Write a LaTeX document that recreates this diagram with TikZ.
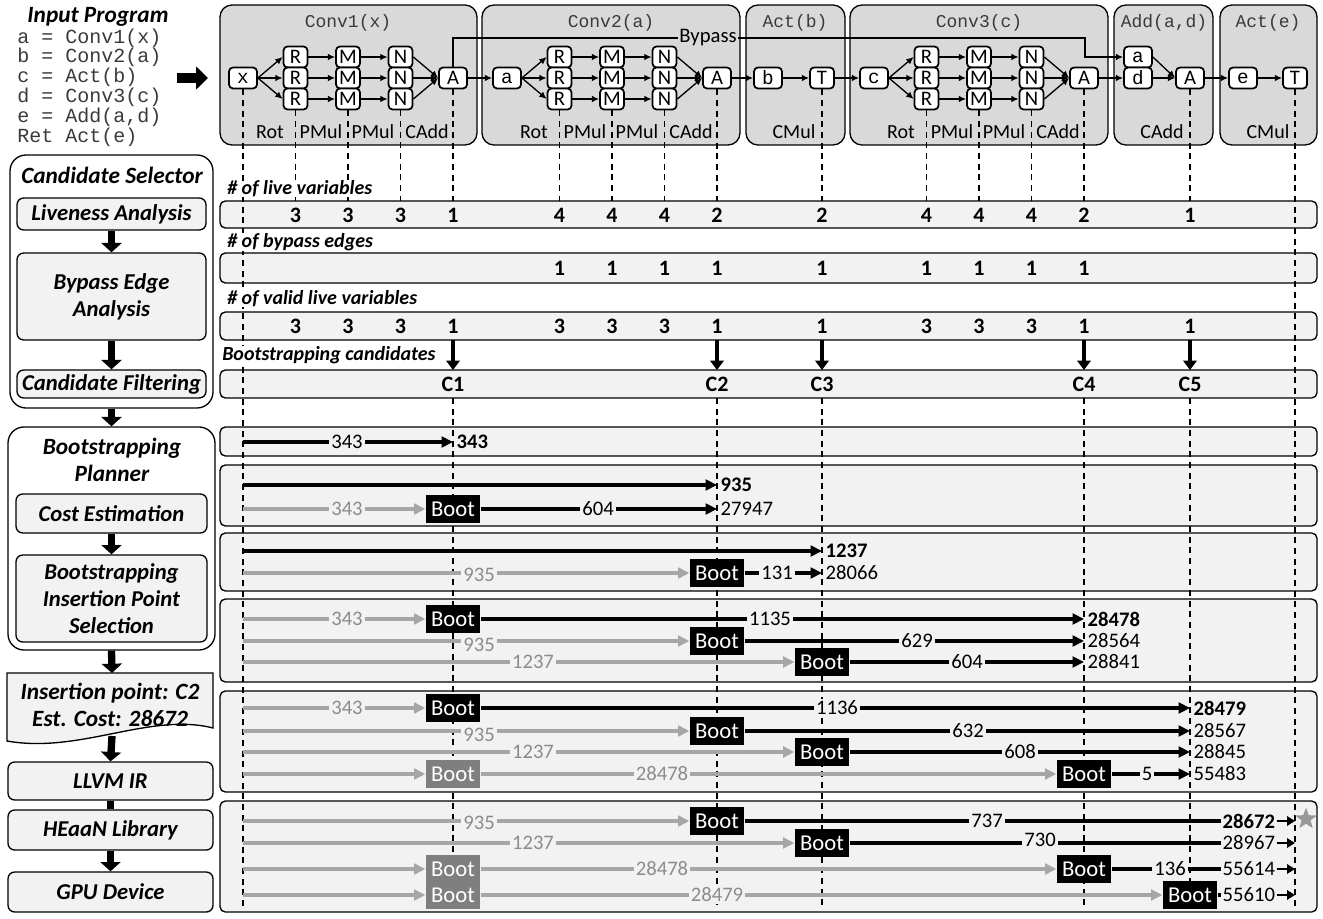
\documentclass[tikz,border=0pt]{standalone}
\usepackage{fontspec}
\setmainfont{Carlito}
\newfontfamily\codefont{Liberation Mono}
\usetikzlibrary{arrows.meta,shapes.geometric}
\definecolor{blockgray}{HTML}{D9D9D9}
\definecolor{rowgray}{HTML}{F2F2F2}
\definecolor{linegray}{HTML}{A6A6A6}
\definecolor{textgray}{HTML}{8C8C8C}
\definecolor{bootgray}{HTML}{7F7F7F}
\definecolor{codegray}{HTML}{3A3A3A}
\definecolor{stargray}{HTML}{999999}
\tikzset{
  block/.style={draw, line width=1pt, fill=blockgray, rounded corners=9pt},
  opn/.style={draw, line width=1.3pt, fill=white, rounded corners=3pt, minimum width=18pt, minimum height=15.75pt, inner sep=0pt, font=\fontsize{15.5}{15.5}\selectfont},
  varn/.style={opn, minimum width=21pt, font=\codefont\fontsize{14.5}{14.5}\selectfont},
  flow/.style={-{Latex[length=5.5pt,width=5pt]}, line width=1pt},
  oplbl/.style={font=\fontsize{15}{15}\selectfont, inner sep=0pt},
  ttl/.style={font=\codefont\fontsize{13.5}{13.5}\selectfont, text=codegray},
  codeln/.style={anchor=west, inner sep=0pt, font=\codefont\fontsize{15}{15}\selectfont, text=codegray},
  vdash/.style={line width=1pt, dash pattern=on 4.5pt off 3.5pt},
  rowbox/.style={draw, line width=1pt, fill=rowgray, rounded corners=4pt},
  hdr/.style={anchor=west, fill=white, font=\bfseries\itshape\fontsize{15}{15}\selectfont, inner sep=0pt},
  num/.style={font=\bfseries\fontsize{16.5}{16.5}\selectfont, inner sep=0pt},
  lbox/.style={draw, line width=1pt, fill=rowgray, rounded corners=5pt, align=center, font=\bfseries\itshape\fontsize{17}{20.5}\selectfont, inner sep=0pt},
  obox/.style={draw, line width=1pt, fill=white, rounded corners=12pt, inner sep=0pt},
  ltext/.style={align=center, font=\bfseries\itshape\fontsize{17.5}{20}\selectfont, inner sep=0pt},
  downarr/.style={line width=5.5pt, -{Triangle[length=7pt,width=15pt]}},
  barcon/.style={line width=5.5pt},
  cand/.style={line width=3.5pt, -{Triangle[length=7pt,width=10pt]}},
  blk/.style={line width=2.4pt, -{Triangle[length=8.5pt,width=8pt]}},
  blkn/.style={line width=2.4pt},
  gry/.style={line width=2.4pt, draw=linegray, -{Triangle[length=8.5pt,width=8pt]}},
  smallarr/.style={line width=2.2pt, -{Triangle[length=6pt,width=7pt]}},
  boot/.style={fill=black, text=white, minimum width=41pt, minimum height=21pt, inner sep=0pt, font=\fontsize{17}{17}\selectfont},
  gboot/.style={boot, fill=bootgray},
  vl/.style={fill=rowgray, inner sep=1.5pt, font=\fontsize{15.5}{15.5}\selectfont},
  gvl/.style={vl, text=textgray},
  el/.style={anchor=west, inner sep=1pt, font=\fontsize{15.5}{15.5}\selectfont},
  bel/.style={el, font=\bfseries\fontsize{15.5}{15.5}\selectfont},
}
\begin{document}
\begin{tikzpicture}[x=0.75pt,y=-0.75pt]
\useasboundingbox (0,0) rectangle (1323,919);

% ---------- top blocks ----------
\draw[block] (220,5) rectangle (477,145);
\draw[block] (482,5) rectangle (740,145);
\draw[block] (746,5) rectangle (845,145);
\draw[block] (850,5) rectangle (1108,145);
\draw[block] (1114,5) rectangle (1213,145);
\draw[block] (1220,5) rectangle (1317,145);
\node[ttl] (t1) at (348,23) {Conv1(x)};
\node[ttl] (t2) at (611,23) {Conv2(a)};
\node[ttl] (t3) at (795,23) {Act(b)};
\node[ttl] (t4) at (979,23) {Conv3(c)};
\node[ttl] (t5) at (1164,23) {Add(a,d)};
\node[ttl] (t6) at (1268,23) {Act(e)};

% ---------- input program ----------
\node[ltext] (iptitle) at (98,17) {Input Program};
\foreach \i/\t in {0/{a = Conv1(x)},1/{b = Conv2(a)},2/{c = Act(b)},3/{d = Conv3(c)},4/{e = Add(a,d)},5/{Ret Act(e)}}{
  \node[codeln] (code\i) at (17,38+19.8*\i) {\t};
}
\coordinate (bigs) at (177,78);
\coordinate (bige) at (208,78);
\draw[line width=7.5pt, -{Triangle[length=9pt,width=17pt]}] (bigs) -- (bige);

% ---------- left column ----------
\node[obox, minimum width=152.25pt, minimum height=189.75pt] (candsel) at (111.5,281.5) {};
\node[ltext] (cstitle) at (112,175) {Candidate Selector};
\node[lbox, minimum width=141.75pt, minimum height=24pt] (live) at (111.5,214) {Liveness Analysis};
\node[lbox, minimum width=141.75pt, minimum height=65.25pt] (bea) at (111.5,296.5) {Bypass Edge\\Analysis};
\node[lbox, minimum width=141.75pt, minimum height=21pt] (filt) at (111.5,384) {Candidate Filtering};
\draw[downarr] (live.south) -- (bea.north);
\draw[downarr] (bea.south) -- (filt.north);

\node[obox, minimum width=155.25pt, minimum height=167.25pt] (planner) at (111.5,538.5) {};
\node[ltext] (pltitle) at (112,460) {Bootstrapping\\Planner};
\node[lbox, minimum width=143.25pt, minimum height=29.25pt] (cost) at (111.5,513.5) {Cost Estimation};
\node[lbox, minimum width=143.25pt, minimum height=65.25pt] (insp) at (111.5,598.5) {Bootstrapping\\Insertion Point\\Selection};
\draw[downarr] (candsel.south) -- (planner.north);
\draw[downarr] (cost.south) -- (insp.north);

\coordinate (doctop) at (112,673);
\draw[line width=1pt, fill=rowgray] (7,673) -- (213,673) -- (213,728) .. controls (150,712) and (80,754) .. (7,741) -- cycle;
\node[ltext] (doct) at (110,705) {Insertion point: C2\\Est. Cost: 28672};
\coordinate (docbot) at (112,736);
\draw[downarr] (planner.south) -- (doctop);
\node[lbox, minimum width=153.75pt, minimum height=28.5pt] (llvm) at (110.5,781) {LLVM IR};
\node[lbox, minimum width=153.75pt, minimum height=30pt] (heaan) at (110.5,830) {HEaaN Library};
\node[lbox, minimum width=153.75pt, minimum height=30pt] (gpu) at (110.5,892) {GPU Device};
\draw[downarr] (docbot) -- (llvm.north);
\draw[barcon] (llvm.south) -- (heaan.north);
\draw[downarr] (heaan.south) -- (gpu.north);

% ---------- right rows backgrounds ----------
\draw[rowbox] (220,201) rectangle (1317,228);
\draw[rowbox] (220,253) rectangle (1317,283);
\draw[rowbox] (220,312) rectangle (1317,340);
\draw[rowbox] (220,370) rectangle (1317,398);

\draw[rowbox] (220,427) rectangle (1317,456);
\draw[rowbox] (220,465) rectangle (1317,526);
\draw[rowbox] (220,533) rectangle (1317,591);
\draw[rowbox] (220,599) rectangle (1317,682);
\draw[rowbox] (220,691) rectangle (1317,792);
\draw[rowbox] (220,801) rectangle (1317,912);

% ---------- operation graph ----------
\foreach \k/\xi/\v in {1/243/x,2/507/a,3/874/c}{
  \begin{scope}[shift={(\xi,0)}]
    \node[varn] (in\k) at (0,78) {\v};
    \node[opn, minimum width=21pt] (A\k) at (210,78) {A};
    \foreach \j/\yy in {1/57,2/78,3/99}{
      \node[opn] (R\k\j) at (52.5,\yy) {R};
      \node[opn] (M\k\j) at (105,\yy) {M};
      \node[opn] (N\k\j) at (157.5,\yy) {N};
      \draw[flow] (in\k.east) -- (R\k\j.west);
      \draw[flow] (R\k\j) -- (M\k\j);
      \draw[flow] (M\k\j) -- (N\k\j);
      \draw[flow] (N\k\j.east) -- (A\k.west);
    }
    \node[oplbl] (rot\k) at (27,132) {Rot};
    \node[oplbl] (pma\k) at (78,132) {PMul};
    \node[oplbl] (pmb\k) at (130,132) {PMul};
    \node[oplbl] (cad\k) at (184,132) {CAdd};
    \draw[vdash] (R\k3.south) -- (52.5,201);
    \draw[vdash] (M\k3.south) -- (105,201);
    \draw[vdash] (N\k3.south) -- (157.5,201);
    \draw[vdash] (A\k.south) -- (210,201);
  \end{scope}
}
\node[varn] (bb) at (768,78) {b};
\node[opn] (T1) at (822,78) {T};
\node[varn] (aa) at (1138,57) {a};
\node[varn] (dd) at (1138,78) {d};
\node[opn, minimum width=21pt] (A4) at (1190,78) {A};
\node[varn] (ee) at (1243,78) {e};
\node[opn] (T2) at (1295,78) {T};
\node[oplbl] (cm1) at (794,132) {CMul};
\node[oplbl] (ca4) at (1162,132) {CAdd};
\node[oplbl] (cm2) at (1268,132) {CMul};
\draw[flow] (A1.east) -- (in2.west);
\draw[flow] (A2.east) -- (bb.west);
\draw[flow] (bb) -- (T1);
\draw[flow] (T1.east) -- (in3.west);
\draw[flow] (A3.east) -- (dd.west);
\draw[flow] (aa.east) -- (A4.west);
\draw[flow] (dd.east) -- (A4.west);
\draw[flow] (A4.east) -- (ee.west);
\draw[flow] (ee) -- (T2);
\draw[flow] (A1.north) |- (1085,38) |- (aa.west);
\node[fill=blockgray, inner sep=1pt, font=\fontsize{15.5}{15.5}\selectfont] (bypl) at (708,38) {Bypass};

% ---------- dashed lines ----------
\draw[vdash] (in1.south) -- (243,910);
\draw[vdash] (T2.south) -- (1295,910);
\draw[vdash] (T1.south) -- (822,201);
\draw[vdash] (A4.south) -- (1190,201);
\foreach \xx in {453,717,822,1084,1190}{
  \draw[vdash] (\xx,398) -- (\xx,910);
}

% ---------- candidate selector rows ----------
\node[hdr] (h1) at (227,189) {\# of live variables};
\node[hdr] (h2) at (227,242) {\# of bypass edges};
\node[hdr] (h3) at (227,299) {\# of valid live variables};
\node[hdr] (h4) at (222,355) {Bootstrapping candidates};
\foreach \xx/\n in {295.5/3,348/3,400.5/3,453/1,559.5/4,612/4,664.5/4,717/2,822/2,926.5/4,979/4,1031.5/4,1084/2,1190/1}{
  \node[num] (lv\xx) at (\xx,215) {\n};
}
\foreach \xx/\n in {559.5/1,612/1,664.5/1,717/1,822/1,926.5/1,979/1,1031.5/1,1084/1}{
  \node[num] (be\xx) at (\xx,268) {\n};
}
\foreach \xx/\n in {295.5/3,348/3,400.5/3,453/1,559.5/3,612/3,664.5/3,717/1,822/1,926.5/3,979/3,1031.5/3,1084/1,1190/1}{
  \node[num] (vv\xx) at (\xx,326) {\n};
}
\foreach \xx/\c in {453/C1,717/C2,822/C3,1084/C4,1190/C5}{
  \coordinate (ct\c) at (\xx,340);
  \coordinate (cb\c) at (\xx,370);
  \draw[cand] (ct\c) -- (cb\c);
  \node[num] (cl\c) at (\xx,384) {\c};
}

% ---------- planner row 1 ----------
\coordinate (p1s) at (243,442); \coordinate (p1e) at (453,442);
\draw[blk] (p1s) -- (p1e);
\node[vl] (p1l) at (347,442) {343};
\node[bel] (p1r) at (455,442) {343};

% ---------- planner row 2 ----------
\coordinate (p2as) at (243,485); \coordinate (p2ae) at (717,485);
\draw[blk] (p2as) -- (p2ae);
\node[bel] (p2ar) at (719,485) {935};
\coordinate (p2bs) at (243,509); \coordinate (p2be) at (717,509);
\node[boot] (b21) at (453,509) {Boot};
\draw[gry] (p2bs) -- (b21.west);
\draw[blk] (b21.east) -- (p2be);
\node[gvl] (p2bl) at (347,509) {343};
\node[vl] (p2bm) at (598,509) {604};
\node[el] (p2br) at (719,509) {27947};

% ---------- planner row 3 ----------
\coordinate (p3as) at (243,551); \coordinate (p3ae) at (822,551);
\draw[blk] (p3as) -- (p3ae);
\node[bel] (p3ar) at (824,551) {1237};
\coordinate (p3bs) at (243,573); \coordinate (p3be) at (822,573);
\node[boot] (b31) at (717,573) {Boot};
\draw[gry] (p3bs) -- (b31.west);
\draw[blk] (b31.east) -- (p3be);
\node[gvl] (p3bl) at (479,575) {935};
\node[vl] (p3bm) at (777,573) {131};
\node[el] (p3br) at (824,573) {28066};

% ---------- planner row 4 ----------
\coordinate (p4as) at (243,619); \coordinate (p4ae) at (1084,619);
\node[boot] (b41) at (453,619) {Boot};
\draw[gry] (p4as) -- (b41.west);
\draw[blk] (b41.east) -- (p4ae);
\node[gvl] (p4al) at (347,619) {343};
\node[vl] (p4am) at (770,619) {1135};
\node[bel] (p4ar) at (1086,619) {28478};
\coordinate (p4bs) at (243,641); \coordinate (p4be) at (1084,641);
\node[boot] (b42) at (717,641) {Boot};
\draw[gry] (p4bs) -- (b42.west);
\draw[blk] (b42.east) -- (p4be);
\node[gvl] (p4bl) at (479,645) {935};
\node[vl] (p4bm) at (917,641) {629};
\node[el] (p4br) at (1086,641) {28564};
\coordinate (p4cs) at (243,662); \coordinate (p4ce) at (1084,662);
\node[boot] (b43) at (822,662) {Boot};
\draw[gry] (p4cs) -- (b43.west);
\draw[blk] (b43.east) -- (p4ce);
\node[gvl] (p4cl) at (533,662) {1237};
\node[vl] (p4cm) at (967,662) {604};
\node[el] (p4cr) at (1086,662) {28841};

% ---------- planner row 5 ----------
\coordinate (p5as) at (243,708); \coordinate (p5ae) at (1190,708);
\node[boot] (b51) at (453,708) {Boot};
\draw[gry] (p5as) -- (b51.west);
\draw[blk] (b51.east) -- (p5ae);
\node[gvl] (p5al) at (347,708) {343};
\node[vl] (p5am) at (837,708) {1136};
\node[bel] (p5ar) at (1192,708) {28479};
\coordinate (p5bs) at (243,731); \coordinate (p5be) at (1190,731);
\node[boot] (b52) at (717,731) {Boot};
\draw[gry] (p5bs) -- (b52.west);
\draw[blk] (b52.east) -- (p5be);
\node[gvl] (p5bl) at (479,735) {935};
\node[vl] (p5bm) at (968,731) {632};
\node[el] (p5br) at (1192,731) {28567};
\coordinate (p5cs) at (243,752); \coordinate (p5ce) at (1190,752);
\node[boot] (b53) at (822,752) {Boot};
\draw[gry] (p5cs) -- (b53.west);
\draw[blk] (b53.east) -- (p5ce);
\node[gvl] (p5cl) at (533,752) {1237};
\node[vl] (p5cm) at (1020,752) {608};
\node[el] (p5cr) at (1192,752) {28845};
\coordinate (p5ds) at (243,774); \coordinate (p5de) at (1190,774);
\node[gboot] (g54) at (453,774) {Boot};
\node[boot] (b54) at (1084,774) {Boot};
\draw[gry] (p5ds) -- (g54.west);
\draw[gry] (g54.east) -- (b54.west);
\draw[blk] (b54.east) -- (p5de);
\node[gvl] (p5dl) at (662,774) {28478};
\node[vl] (p5dm) at (1147,774) {5};
\node[el] (p5dr) at (1192,774) {55483};

% ---------- planner row 6 ----------
\coordinate (p6as) at (243,821); \coordinate (p6ae) at (1295,821);
\node[boot] (b61) at (717,821) {Boot};
\node[bel, fill=rowgray] (p6ar) at (1221,821) {28672};
\draw[gry] (p6as) -- (b61.west);
\draw[blkn] (b61.east) -- (p6ar.west);
\draw[smallarr] (p6ar.east) -- (p6ae);
\node[gvl] (p6al) at (479,823) {935};
\node[vl] (p6am) at (987,821) {737};
\node[star, star points=5, star point ratio=2.4, fill=stargray, minimum size=17pt, inner sep=0pt] (star) at (1306,819) {};

\coordinate (p6bs) at (243,843); \coordinate (p6be) at (1295,843);
\node[boot] (b62) at (822,843) {Boot};
\node[el, fill=rowgray] (p6br) at (1221,843) {28967};
\draw[gry] (p6bs) -- (b62.west);
\draw[blkn] (b62.east) -- (p6br.west);
\draw[smallarr] (p6br.east) -- (p6be);
\node[gvl] (p6bl) at (533,843) {1237};
\node[vl] (p6bm) at (1040,840) {730};

\coordinate (p6cs) at (243,869); \coordinate (p6ce) at (1295,869);
\node[gboot] (g63) at (453,869) {Boot};
\node[boot] (b63) at (1084,869) {Boot};
\node[el, fill=rowgray] (p6cr) at (1221,869) {55614};
\draw[gry] (p6cs) -- (g63.west);
\draw[gry] (g63.east) -- (b63.west);
\draw[blkn] (b63.east) -- (p6cr.west);
\draw[smallarr] (p6cr.east) -- (p6ce);
\node[gvl] (p6cl) at (662,869) {28478};
\node[vl] (p6cm) at (1170,869) {136};

\coordinate (p6ds) at (243,895); \coordinate (p6de) at (1295,895);
\node[gboot] (g64) at (453,895) {Boot};
\node[boot] (b64) at (1190,895) {Boot};
\node[el, fill=rowgray] (p6dr) at (1221,895) {55610};
\draw[gry] (p6ds) -- (g64.west);
\draw[gry] (g64.east) -- (b64.west);
\draw[blkn] (b64.east) -- (p6dr.west);
\draw[smallarr] (p6dr.east) -- (p6de);
\node[gvl] (p6dl) at (717,895) {28479};
\end{tikzpicture}
\end{document}
